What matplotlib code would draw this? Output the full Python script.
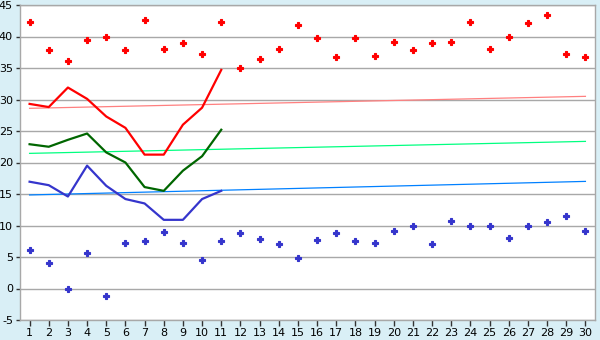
import matplotlib
matplotlib.use("Agg")
import matplotlib.pyplot as plt
import numpy as np

days = list(range(1, 31))
max_pts = [42.25, 37.8, 36.1, 39.4, 39.9, 37.8, 42.6, 38.0, 38.9, 37.3,
           42.25, 35.0, 36.4, 38.0, 41.8, 39.7, 36.7, 39.7, 36.85, 39.1,
           37.8, 38.9, 39.1, 42.25, 38.0, 40.0, 42.1, 43.4, 37.3, 36.7]
min_pts = [6.05, 4.0, 0.0, 5.6, -1.25, 7.2, 7.5, 8.9, 7.2, 4.5,
           7.5, 8.75, 7.8, 7.0, 4.8, 7.65, 8.75, 7.5, 7.2, 9.1,
           10.0, 7.0, 10.7, 10.0, 10.0, 7.95, 10.0, 10.5, 11.45, 9.1]
line_days = list(range(1, 12))
red_line = [29.3, 28.8, 31.9, 30.1, 27.3, 25.5, 21.25, 21.25, 26.0, 28.7, 34.7]
green_line = [22.9, 22.5, 23.6, 24.6, 21.6, 20.0, 16.1, 15.5, 18.7, 21.0, 25.2]
blue_line = [16.95, 16.4, 14.6, 19.5, 16.3, 14.2, 13.5, 10.9, 10.9, 14.2, 15.5]
trend_days = [1, 30]
red_trend = [28.6, 30.5]
green_trend = [21.45, 23.35]
blue_trend = [14.85, 17.0]
yticks = list(range(-5, 50, 5))

fig = plt.figure(figsize=(6, 3.4), dpi=100)
fig.patch.set_facecolor("#D9EFF6")
ax = fig.add_axes([20/600, 20/340, 575/600, 315/340])
ax.set_facecolor("white")

for y in yticks:
    ax.axhline(y, color="#A8A8A8", lw=1.0, zorder=1)

ax.plot(trend_days, red_trend, color="#FF8080", lw=0.9, zorder=2)
ax.plot(trend_days, green_trend, color="#00FF80", lw=0.9, zorder=2)
ax.plot(trend_days, blue_trend, color="#0080FF", lw=0.9, zorder=2)

ax.plot(line_days, red_line, color="#FF0000", lw=1.6, zorder=3)
ax.plot(line_days, green_line, color="#006600", lw=1.6, zorder=3)
ax.plot(line_days, blue_line, color="#3535CC", lw=1.6, zorder=3)

ax.plot(days, max_pts, linestyle="none", marker="P", ms=5, color="#FF0000",
        mec="#FF0000", mew=0.8, zorder=4)
ax.plot(days, min_pts, linestyle="none", marker="P", ms=5, color="#3535CC",
        mec="#3535CC", mew=0.8, zorder=4)

ax.set_xlim(0.5, 30.5)
ax.set_ylim(-5, 45)
ax.set_xticks(days)
ax.set_xticklabels([str(d) for d in days])
ax.set_yticks(yticks)
ax.set_yticklabels([str(v) for v in yticks])
ax.tick_params(axis="both", labelsize=8, colors="#000000", length=4, width=1,
               color="#333333", pad=2)
ax.tick_params(axis="y", length=3)
for s in ax.spines.values():
    s.set_color("#A8A8A8")
    s.set_linewidth(1.0)

fig.savefig("out.png", dpi=100, facecolor=fig.get_facecolor())
